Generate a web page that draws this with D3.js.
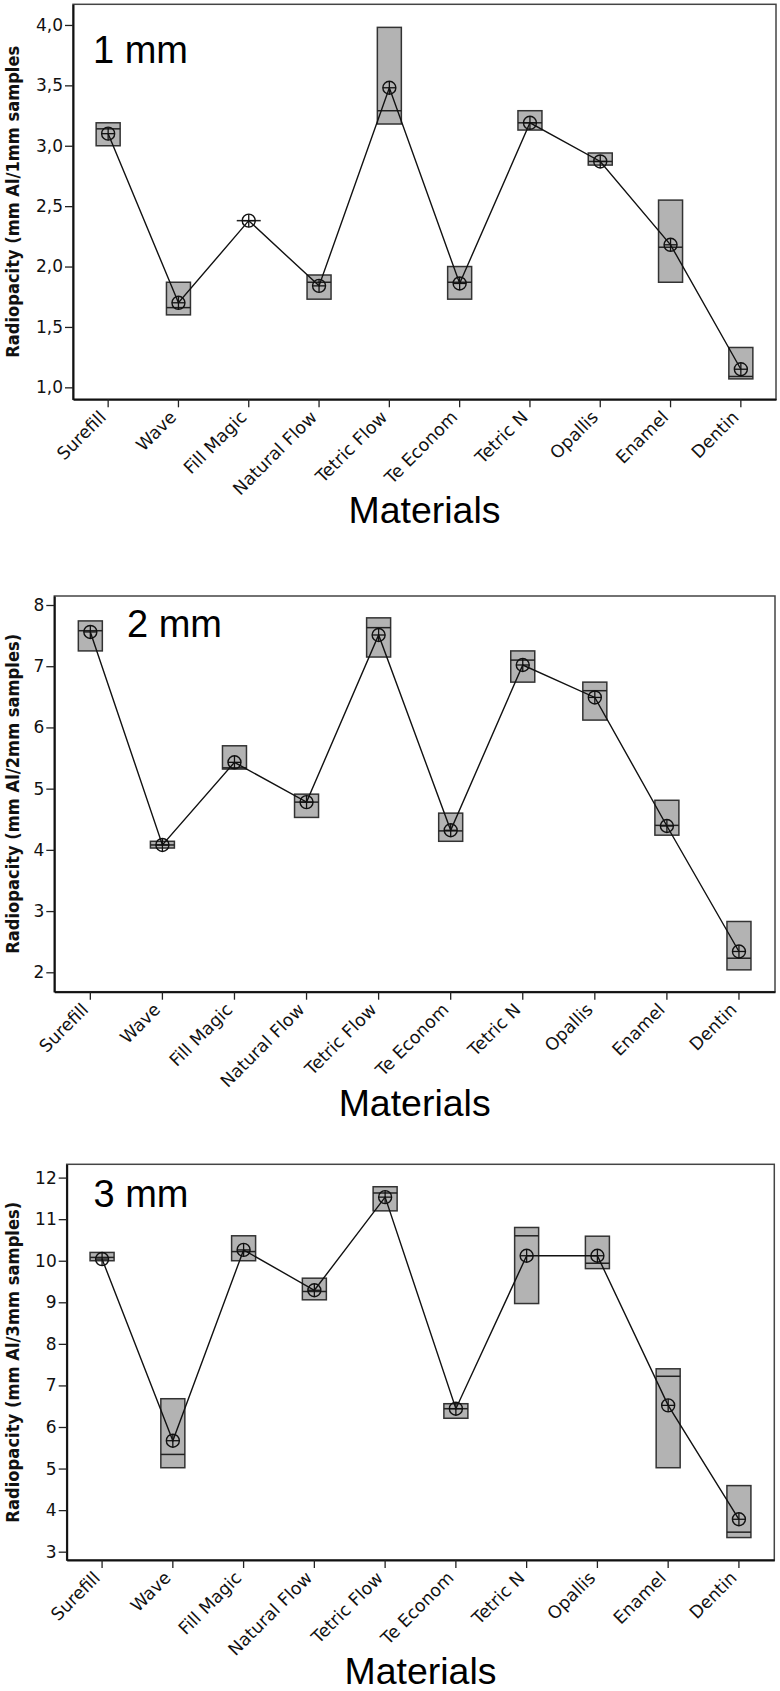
<!DOCTYPE html>
<html><head><meta charset="utf-8">
<script src="https://cdn.jsdelivr.net/npm/d3@7"></script>
<style>html,body{margin:0;padding:0;background:#fff;}</style>
</head><body>
<svg id="chart" width="780" height="1691"></svg>
<script>
// ---------- DATA ----------
const categories = ["Surefill","Wave","Fill Magic","Natural Flow","Tetric Flow","Te Econom","Tetric N","Opallis","Enamel","Dentin"];

// 1 mm
const q1_1mm   = [3.00, 1.60, 2.38, 1.73, 3.18, 1.73, 3.13, 2.84, 1.87, 1.07];
const q3_1mm   = [3.19, 1.87, 2.38, 1.93, 3.98, 2.00, 3.29, 2.94, 2.55, 1.33];
const med_1mm  = [3.14, 1.66, 2.38, 1.87, 3.29, 1.87, 3.19, 2.87, 2.16, 1.09];
const mean_1mm = [3.10, 1.70, 2.38, 1.84, 3.48, 1.86, 3.19, 2.87, 2.18, 1.15];
const ticks_1mm = [1.0, 1.5, 2.0, 2.5, 3.0, 3.5, 4.0];
const tickLabels_1mm = ["1,0","1,5","2,0","2,5","3,0","3,5","4,0"];

// 2 mm
const q1_2mm   = [7.25, 4.03, 5.32, 4.53, 7.15, 4.14, 6.74, 6.12, 4.24, 2.04];
const q3_2mm   = [7.74, 4.14, 5.70, 4.91, 7.79, 4.60, 7.25, 6.74, 4.81, 2.83];
const med_2mm  = [7.58, 4.08, 5.34, 4.78, 7.63, 4.31, 7.10, 6.60, 4.40, 2.23];
const mean_2mm = [7.56, 4.08, 5.43, 4.78, 7.51, 4.32, 7.02, 6.49, 4.39, 2.34];
const ticks_2mm = [2, 3, 4, 5, 6, 7, 8];
const tickLabels_2mm = ["2","3","4","5","6","7","8"];

// 3 mm
const q1_3mm   = [10.00, 5.02, 10.00, 9.06, 11.20, 6.21, 8.97, 9.81, 5.02, 3.34];
const q3_3mm   = [10.20, 6.68, 10.60, 9.58, 11.78, 6.56, 10.80, 10.59, 7.40, 4.59];
const med_3mm  = [10.08, 5.34, 10.22, 9.26, 11.63, 6.44, 10.60, 9.94, 7.22, 3.47];
const mean_3mm = [10.04, 5.67, 10.26, 9.29, 11.53, 6.44, 10.12, 10.12, 6.52, 3.78];
const ticks_3mm = [3,4,5,6,7,8,9,10,11,12];
const tickLabels_3mm = ["3","4","5","6","7","8","9","10","11","12"];

const panelTitles = ["1 mm","2 mm","3 mm"];
const yTitles = ["Radiopacity (mm Al/1mm samples","Radiopacity (mm Al/2mm samples)","Radiopacity (mm Al/3mm samples)"];
const xTitle = "Materials";

// ---------- LAYOUT ----------
const panels = [
  {q1:q1_1mm,q3:q3_1mm,med:med_1mm,mean:mean_1mm,ticks:ticks_1mm,labels:tickLabels_1mm,
   left:73,right:776,top:4.3,bottom:399.3,dom:[0.901,4.171],
   titleX:93,titleY:63.3,yTitleLen:312,title:panelTitles[0],yTitle:yTitles[0]},
  {q1:q1_2mm,q3:q3_2mm,med:med_2mm,mean:mean_2mm,ticks:ticks_2mm,labels:tickLabels_2mm,
   left:54.3,right:775,top:596,bottom:991.7,dom:[1.683,8.147],
   titleX:127,titleY:637.3,yTitleLen:320,title:panelTitles[1],yTitle:yTitles[1]},
  {q1:q1_3mm,q3:q3_3mm,med:med_3mm,mean:mean_3mm,ticks:ticks_3mm,labels:tickLabels_3mm,
   left:66.7,right:774.3,top:1164.3,bottom:1560,dom:[2.80,12.32],
   titleX:93.5,titleY:1207.3,yTitleLen:321,title:panelTitles[2],yTitle:yTitles[2]}
];

const svg = d3.select("#chart");
svg.append("rect").attr("width",780).attr("height",1691).attr("fill","#fff");

panels.forEach(p => {
  const g = svg.append("g");
  const x = d3.scaleBand().domain(categories).range([p.left, p.right]).padding(0);
  const y = d3.scaleLinear().domain(p.dom).range([p.bottom, p.top]);
  const bw = 24;
  const cx = c => x(c) + x.bandwidth()/2;

  // frame
  g.append("rect").attr("x",p.left).attr("y",p.top)
    .attr("width",p.right-p.left).attr("height",p.bottom-p.top)
    .attr("fill","none").attr("stroke","#444").attr("stroke-width",1.5);

  // y axis
  const yAxis = d3.axisLeft(y).tickValues(p.ticks)
    .tickFormat((d,i)=>p.labels[i]).tickSize(8).tickSizeOuter(0).tickPadding(2);
  const ya = g.append("g").attr("transform",`translate(${p.left},0)`).call(yAxis);
  ya.select(".domain").attr("stroke","#111").attr("stroke-width",2);
  ya.selectAll(".tick line").attr("stroke","#222").attr("stroke-width",1.3);
  ya.selectAll(".tick text").attr("font-family","DejaVu Sans").attr("font-size",17).attr("fill","#111");

  // x axis
  const xAxis = d3.axisBottom(x).tickSize(8).tickSizeOuter(0);
  const xa = g.append("g").attr("transform",`translate(0,${p.bottom})`).call(xAxis);
  xa.select(".domain").attr("stroke","#111").attr("stroke-width",2);
  xa.selectAll(".tick line").attr("stroke","#222").attr("stroke-width",1.3);
  xa.selectAll(".tick text")
    .attr("font-family","DejaVu Sans").attr("font-size",17.5).attr("fill","#111")
    .attr("text-anchor","end").attr("x",-1).attr("y",19).attr("dy",0)
    .attr("transform","rotate(-45,-1,19)");

  const data = categories.map((c,i)=>({c, q1:p.q1[i], q3:p.q3[i], med:p.med[i], mean:p.mean[i]}));

  // boxes
  g.selectAll(".box").data(data).enter().append("rect")
    .attr("x",d=>cx(d.c)-bw/2).attr("width",bw)
    .attr("y",d=>y(d.q3)).attr("height",d=>Math.max(0,y(d.q1)-y(d.q3)))
    .attr("fill","#b3b3b3").attr("stroke","#333").attr("stroke-width",1.5);
  // medians
  g.selectAll(".med").data(data).enter().append("line")
    .attr("x1",d=>cx(d.c)-bw/2).attr("x2",d=>cx(d.c)+bw/2)
    .attr("y1",d=>y(d.med)).attr("y2",d=>y(d.med))
    .attr("stroke","#222").attr("stroke-width",1.5);
  // mean line
  g.append("path").datum(data)
    .attr("d", d3.line().x(d=>cx(d.c)).y(d=>y(d.mean)))
    .attr("fill","none").attr("stroke","#111").attr("stroke-width",1.4);
  // mean symbols (circle with cross)
  const r = 6.5;
  const sym = g.selectAll(".sym").data(data).enter().append("g")
    .attr("transform",d=>`translate(${cx(d.c)},${y(d.mean)})`);
  sym.append("circle").attr("r",r).attr("fill","none").attr("stroke","#111").attr("stroke-width",1.4);
  sym.append("line").attr("x1",-r).attr("x2",r).attr("stroke","#111").attr("stroke-width",1.3);
  sym.append("line").attr("y1",-r).attr("y2",r).attr("stroke","#111").attr("stroke-width",1.3);

  // panel title
  g.append("text").attr("x",p.titleX).attr("y",p.titleY)
    .attr("font-family","Liberation Sans, Arial, sans-serif").attr("font-size",38)
    .attr("fill","#000").text(p.title);

  // y title
  const ymid = (p.top+p.bottom)/2;
  g.append("text").attr("transform",`translate(19,${ymid}) rotate(-90)`)
    .attr("text-anchor","middle").attr("font-family","DejaVu Sans").attr("font-weight","bold")
    .attr("font-size",17).attr("fill","#111")
    .attr("textLength",p.yTitleLen).attr("lengthAdjust","spacingAndGlyphs")
    .text(p.yTitle);

  // x title
  g.append("text").attr("x",(p.left+p.right)/2).attr("y",p.bottom+124)
    .attr("text-anchor","middle").attr("font-family","Liberation Sans, Arial, sans-serif")
    .attr("font-size",37).attr("fill","#000")
    .attr("textLength",152).attr("lengthAdjust","spacingAndGlyphs").text(xTitle);
});
</script>
</body></html>
